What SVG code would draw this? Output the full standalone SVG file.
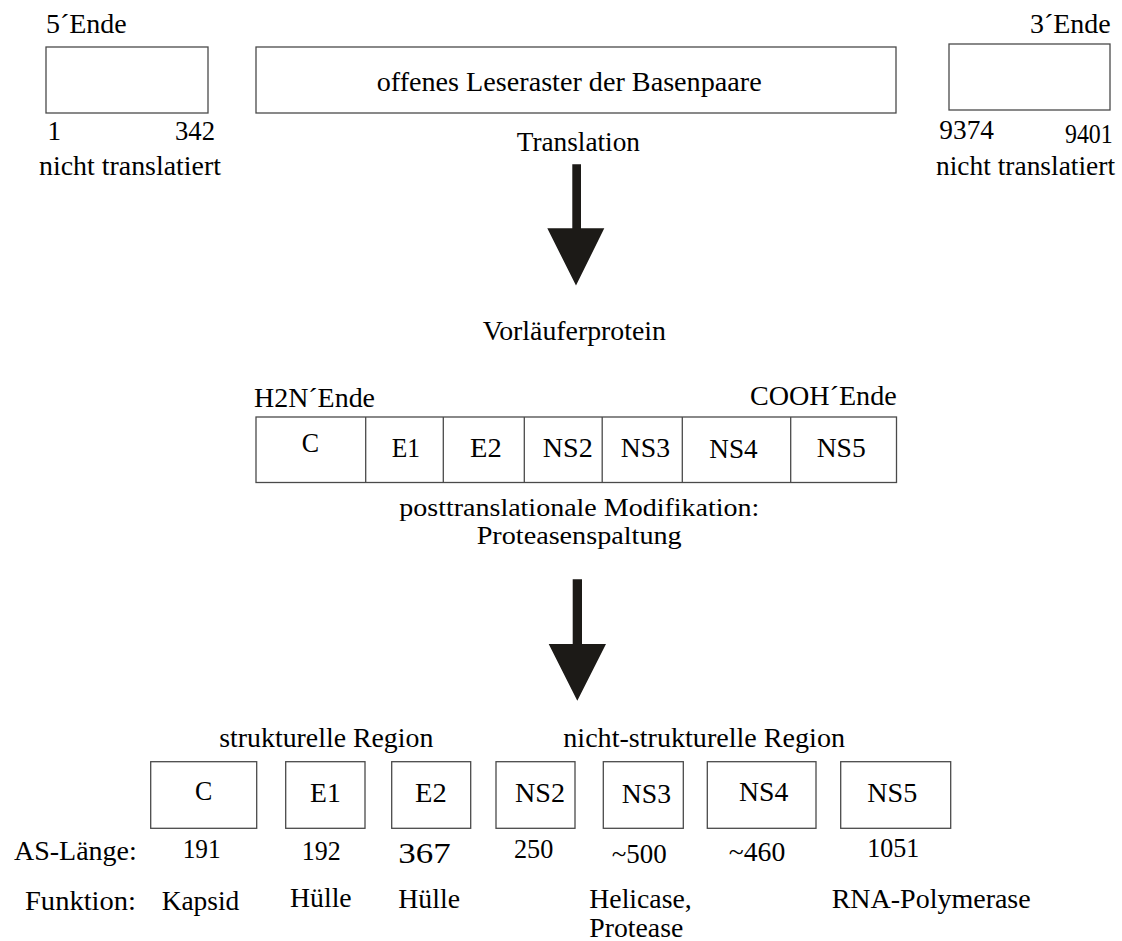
<svg xmlns="http://www.w3.org/2000/svg" width="1122" height="941" viewBox="0 0 1122 941">
<style>
.t{font-family:"Liberation Serif","Times New Roman",Times,serif;font-size:27px;fill:#000}
.s{font-size:25px}
.l{font-size:29px}
.b{fill:#fff;stroke:#4a4a4a;stroke-width:1.3}
.d{stroke:#4a4a4a;stroke-width:1.3}
.a{fill:#1c1a17}
</style>
<rect width="1122" height="941" fill="#fff"/>

<g id="utr5">
<text class="t" x="46" y="33.3" textLength="80.7" lengthAdjust="spacingAndGlyphs">5´Ende</text>
<rect class="b" x="46" y="47" width="162" height="66"/>
<text class="t" x="47.5" y="140">1</text>
<text class="t" x="175" y="140" textLength="40" lengthAdjust="spacingAndGlyphs">342</text>
<text class="t" x="39" y="175" textLength="182" lengthAdjust="spacingAndGlyphs">nicht translatiert</text>
</g>

<g id="orf">
<rect class="b" x="256" y="47" width="640" height="66"/>
<text class="t" x="376.7" y="91" textLength="385" lengthAdjust="spacingAndGlyphs">offenes Leseraster der Basenpaare</text>
<text class="t" x="516.7" y="150.7" textLength="123.3" lengthAdjust="spacingAndGlyphs">Translation</text>
</g>

<g id="utr3">
<text class="t" x="1030" y="33" textLength="80.7" lengthAdjust="spacingAndGlyphs">3´Ende</text>
<rect class="b" x="949" y="44" width="161" height="66"/>
<text class="t" x="939.3" y="139.3" textLength="54.7" lengthAdjust="spacingAndGlyphs">9374</text>
<text class="t" x="1065" y="142.7" textLength="47.7" lengthAdjust="spacingAndGlyphs">9401</text>
<text class="t" x="936" y="175" textLength="179" lengthAdjust="spacingAndGlyphs">nicht translatiert</text>
</g>

<g id="connectors">
<polygon class="a" points="572.3,164.3 581,164.3 581,228.3 604.3,228.3 576,285.5 547.3,228.3 572.3,228.3"/>
<polygon class="a" points="572.7,579.3 582,579.3 582,644 606,644 577.3,700.7 548.7,644 572.7,644"/>
</g>

<g id="precursor">
<text class="t" x="482.7" y="340" textLength="183.3" lengthAdjust="spacingAndGlyphs">Vorläuferprotein</text>
<text class="t" x="254" y="407.3" textLength="121" lengthAdjust="spacingAndGlyphs">H2N´Ende</text>
<text class="t" x="750" y="405" textLength="146.7" lengthAdjust="spacingAndGlyphs">COOH´Ende</text>
<rect class="b" x="256" y="417" width="640.5" height="65.5"/>
<line class="d" x1="365.7" y1="417" x2="365.7" y2="482.5"/>
<line class="d" x1="443.3" y1="417" x2="443.3" y2="482.5"/>
<line class="d" x1="524.3" y1="417" x2="524.3" y2="482.5"/>
<line class="d" x1="602.2" y1="417" x2="602.2" y2="482.5"/>
<line class="d" x1="682.3" y1="417" x2="682.3" y2="482.5"/>
<line class="d" x1="790.7" y1="417" x2="790.7" y2="482.5"/>
<text class="t" x="301.7" y="451.7" textLength="17.3" lengthAdjust="spacingAndGlyphs">C</text>
<text class="t" x="391.7" y="456.7" textLength="28.3" lengthAdjust="spacingAndGlyphs">E1</text>
<text class="t" x="470" y="457" textLength="31.7" lengthAdjust="spacingAndGlyphs">E2</text>
<text class="t" x="542.7" y="457" textLength="50" lengthAdjust="spacingAndGlyphs">NS2</text>
<text class="t" x="620.7" y="457" textLength="49.3" lengthAdjust="spacingAndGlyphs">NS3</text>
<text class="t" x="709.3" y="458" textLength="48.4" lengthAdjust="spacingAndGlyphs">NS4</text>
<text class="t" x="816.7" y="457" textLength="49" lengthAdjust="spacingAndGlyphs">NS5</text>
<text class="t s" x="399.3" y="515.5" textLength="360" lengthAdjust="spacingAndGlyphs">posttranslationale Modifikation:</text>
<text class="t s" x="476.7" y="543.5" textLength="205" lengthAdjust="spacingAndGlyphs">Proteasenspaltung</text>
</g>

<g id="region-labels">
<text class="t" x="219.3" y="746.7" textLength="214" lengthAdjust="spacingAndGlyphs">strukturelle Region</text>
<text class="t" x="563.3" y="746.7" textLength="281.7" lengthAdjust="spacingAndGlyphs">nicht-strukturelle Region</text>
<text class="t" x="14" y="860" textLength="122.7" lengthAdjust="spacingAndGlyphs">AS-Länge:</text>
<text class="t" x="25" y="910" textLength="111" lengthAdjust="spacingAndGlyphs">Funktion:</text>
</g>

<g id="p-C">
<rect class="b" x="150.7" y="761.7" width="106" height="66.6"/>
<text class="t" x="195" y="800" textLength="17.3" lengthAdjust="spacingAndGlyphs">C</text>
<text class="t" x="182.7" y="858.3" textLength="38" lengthAdjust="spacingAndGlyphs">191</text>
<text class="t" x="161.7" y="910" textLength="77.6" lengthAdjust="spacingAndGlyphs">Kapsid</text>
</g>

<g id="p-E1">
<rect class="b" x="285.7" y="761.7" width="79.3" height="66.6"/>
<text class="t" x="310" y="801.7" textLength="30.7" lengthAdjust="spacingAndGlyphs">E1</text>
<text class="t" x="301.7" y="860" textLength="39" lengthAdjust="spacingAndGlyphs">192</text>
<text class="t" x="290" y="907.3" textLength="61.7" lengthAdjust="spacingAndGlyphs">Hülle</text>
</g>

<g id="p-E2">
<rect class="b" x="391.7" y="761.7" width="79" height="66.6"/>
<text class="t" x="415" y="801.7" textLength="31.7" lengthAdjust="spacingAndGlyphs">E2</text>
<text class="t l" x="398.3" y="863.3" textLength="52.4" lengthAdjust="spacingAndGlyphs">367</text>
<text class="t" x="398.3" y="908.3" textLength="61.7" lengthAdjust="spacingAndGlyphs">Hülle</text>
</g>

<g id="p-NS2">
<rect class="b" x="496" y="761.7" width="79" height="66.6"/>
<text class="t" x="515" y="801.7" textLength="50" lengthAdjust="spacingAndGlyphs">NS2</text>
<text class="t" x="514" y="858.3" textLength="39.3" lengthAdjust="spacingAndGlyphs">250</text>
</g>

<g id="p-NS3">
<rect class="b" x="603.3" y="761.7" width="80" height="66.6"/>
<text class="t" x="621.7" y="803.3" textLength="49.3" lengthAdjust="spacingAndGlyphs">NS3</text>
<text class="t" x="611.7" y="863.3" textLength="55" lengthAdjust="spacingAndGlyphs">~500</text>
<text class="t" x="589.3" y="908.3" textLength="102.4" lengthAdjust="spacingAndGlyphs">Helicase,</text>
<text class="t" x="589.3" y="936.7" textLength="94" lengthAdjust="spacingAndGlyphs">Protease</text>
</g>

<g id="p-NS4">
<rect class="b" x="707.3" y="761.7" width="108.7" height="66.6"/>
<text class="t" x="739" y="800.7" textLength="49.3" lengthAdjust="spacingAndGlyphs">NS4</text>
<text class="t" x="728.8" y="860.5" textLength="56.5" lengthAdjust="spacingAndGlyphs">~460</text>
</g>

<g id="p-NS5">
<rect class="b" x="840.7" y="761.7" width="110" height="66.6"/>
<text class="t" x="867.3" y="801.7" textLength="50" lengthAdjust="spacingAndGlyphs">NS5</text>
<text class="t" x="867.3" y="857.3" textLength="52" lengthAdjust="spacingAndGlyphs">1051</text>
<text class="t" x="831.7" y="908.3" textLength="199" lengthAdjust="spacingAndGlyphs">RNA-Polymerase</text>
</g>
</svg>
